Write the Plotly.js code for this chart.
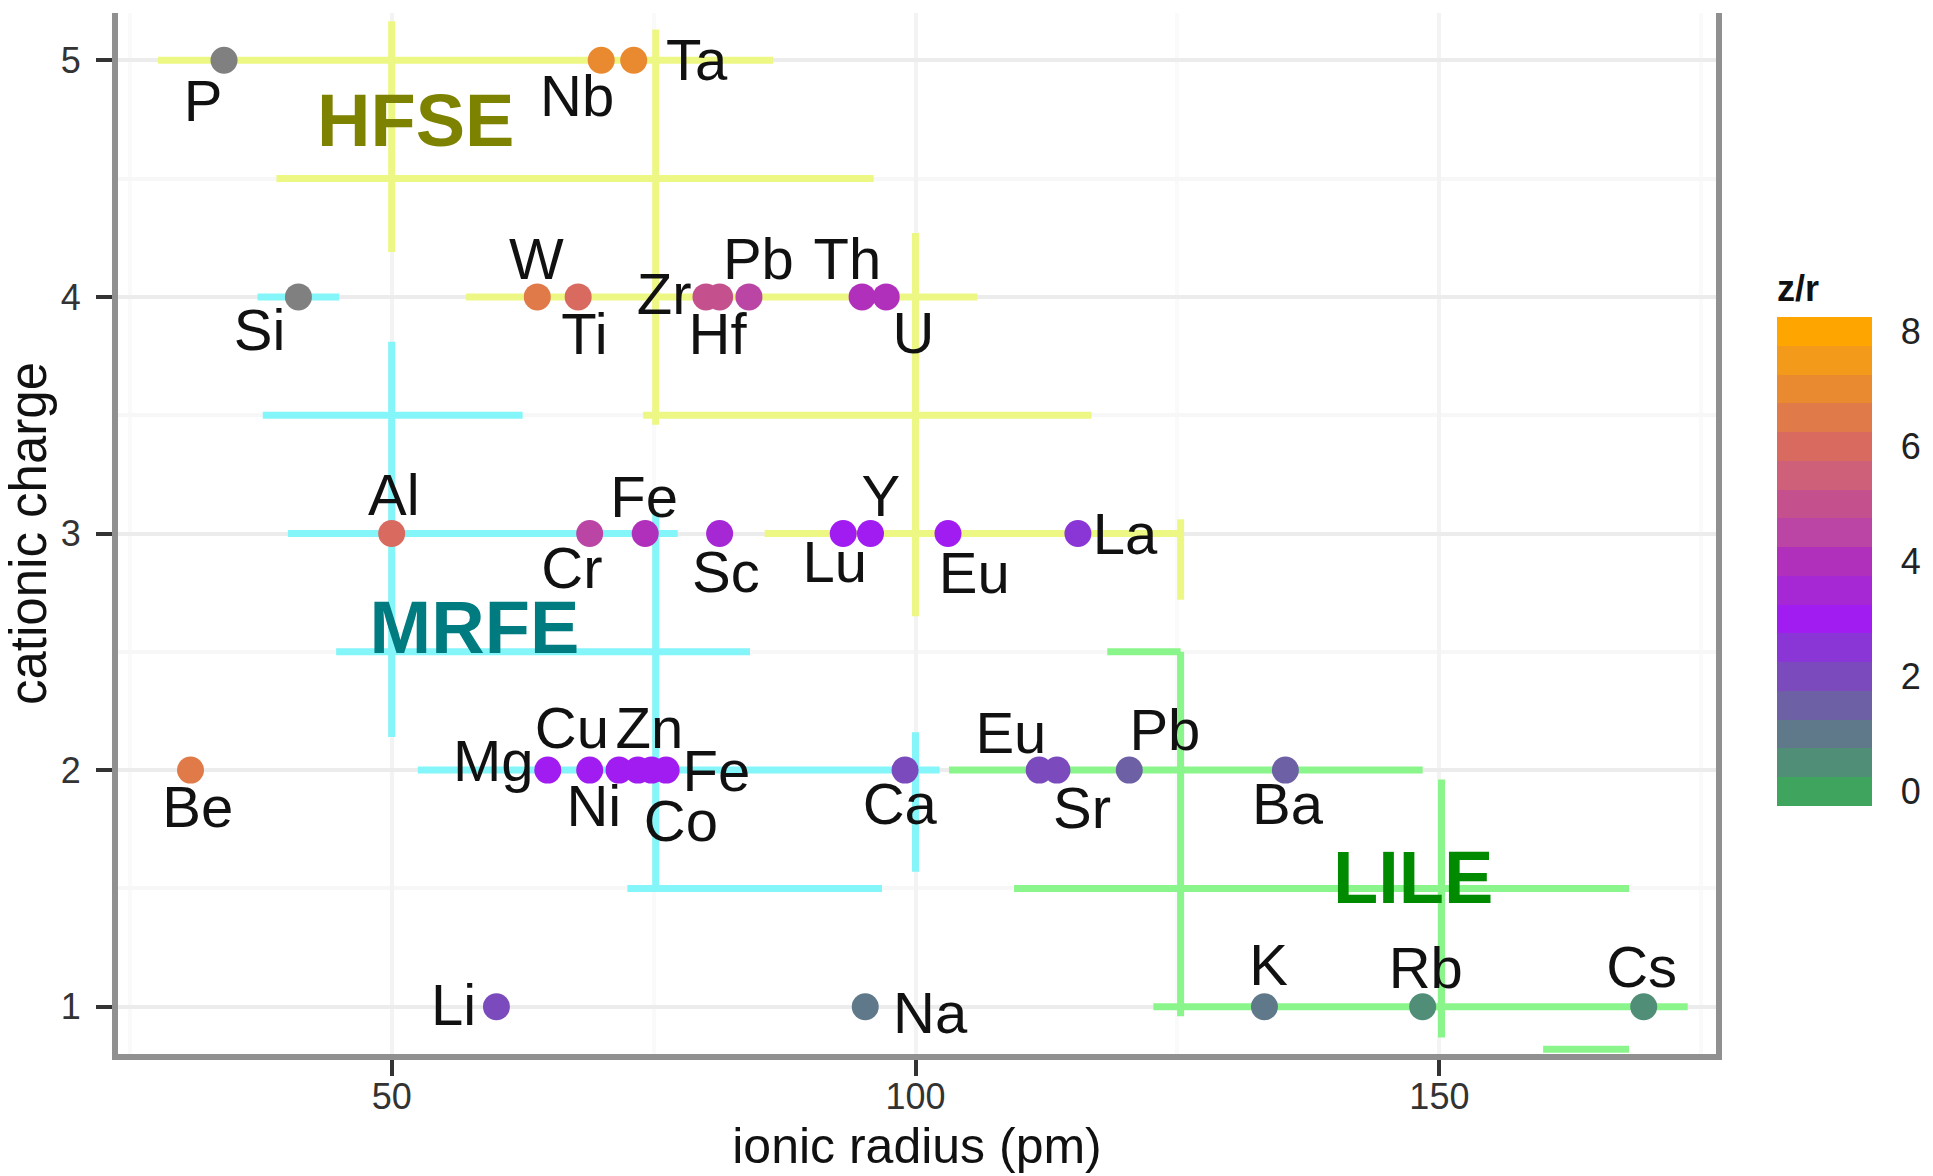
<!DOCTYPE html>
<html>
<head>
<meta charset="utf-8">
<script src="https://cdn.plot.ly/plotly-3.0.1.min.js"></script>
<style>
  html, body { margin: 0; padding: 0; background: #ffffff; }
  #chart { width: 1933px; height: 1176px; }
</style>
</head>
<body>
<div id="chart"></div>
<script>
// ---------- data ----------
const elements = ["P","Nb","Ta","W","Ti","Zr","Hf","Pb","Th","U",
                  "Si","Al","Cr","Fe","Sc","Lu","Y","Eu","La",
                  "Be","Mg","Ni","Cu","Zn","Co","Fe","Ca","Eu","Sr","Pb","Ba",
                  "Li","Na","K","Rb","Cs"];
const ionicRadius = [34.0, 70.0, 73.1, 63.9, 67.8, 80.0, 81.3, 84.1, 94.9, 97.2,
                     41.1, 50.0, 68.9, 74.2, 81.3, 93.1, 95.7, 103.1, 115.5,
                     30.8, 64.9, 68.9, 71.7, 73.5, 74.8, 76.2, 99.0, 111.8, 113.5, 120.4, 135.3,
                     60.0, 95.2, 133.3, 148.4, 169.5];
const cationicCharge = [5, 5, 5, 4, 4, 4, 4, 4, 4, 4,
                        4, 3, 3, 3, 3, 3, 3, 3, 3,
                        2, 2, 2, 2, 2, 2, 2, 2, 2, 2, 2, 2,
                        1, 1, 1, 1, 1];
// z/r colour value (null = outside the colour scale, drawn grey)
const zOverR = [null, 7.2, 6.9, 6.3, 5.9, 5.0, 4.9, 4.7, 4.2, 4.1,
                null, 6.0, 4.35, 4.05, 3.7, 3.2, 3.15, 2.9, 2.6,
                6.5, 3.1, 2.9, 2.85, 2.8, 2.8, 2.76, 2.0, 1.8, 1.77, 1.67, 1.5,
                1.8, 1.05, 0.75, 0.68, 0.6];
// label anchor positions (data units)
const labelX = [32.0, 67.7, 79.1, 63.8, 68.4, 76.0, 81.1, 85.0, 93.5, 99.8,
                37.4, 50.2, 67.2, 74.1, 81.9, 92.3, 96.7, 105.6, 120.0,
                31.5, 59.7, 69.3, 67.2, 74.6, 77.6, 81.0, 98.5, 109.1, 115.9, 123.8, 135.5,
                55.9, 101.4, 133.7, 148.7, 169.3];
const labelY = [4.805, 4.825, 4.98, 4.135, 3.82, 3.99, 3.82, 4.135, 4.135, 3.825,
                3.835, 3.14, 2.83, 3.13, 2.815, 2.855, 3.135, 2.81, 2.975,
                1.82, 2.015, 1.825, 2.155, 2.155, 1.76, 1.975, 1.835, 2.135, 1.815, 2.145, 1.835,
                0.985, 0.95, 1.155, 1.14, 1.145];

// group names and positions
const groupNames = ["HFSE", "MRFE", "LILE"];
const groupX = [52.3, 57.9, 147.5];
const groupY = [4.715, 2.575, 1.515];
const groupTextColors = ["#7d8200", "#007b80", "#008a00"];
const groupLineColors = ["#edf783", "#84f5f8", "#8af58a"];

// freehand boundary segments per group: [x0, x1, y0, y1]
const hfseSegments = [
  [27.7, 86.4, 5, 5], [50, 50, 5.165, 4.19], [39.0, 96.0, 4.5, 4.5],
  [75.2, 75.2, 5.13, 3.46], [57.1, 105.9, 4, 4], [74.0, 116.8, 3.5, 3.5],
  [100, 100, 4.27, 2.65], [85.6, 125.3, 3, 3], [125.3, 125.3, 3.06, 2.72]
];
const mrfeSegments = [
  [37.2, 45.0, 4, 4], [50, 50, 3.81, 2.14], [37.7, 62.5, 3.5, 3.5],
  [40.1, 77.3, 3, 3], [44.7, 84.2, 2.5, 2.5], [75.2, 75.2, 3.09, 1.51],
  [52.5, 102.3, 2, 2], [72.5, 96.8, 1.5, 1.5], [100, 100, 2.16, 1.57]
];
const lileSegments = [
  [103.2, 148.4, 2, 2], [118.3, 125.3, 2.5, 2.5], [125.3, 125.3, 2.5, 0.96],
  [109.4, 168.1, 1.5, 1.5], [150.2, 150.2, 1.96, 0.87], [122.7, 173.7, 1, 1],
  [159.9, 168.1, 0.82, 0.82]
];

// colour bar bands (z/r = 0, 0.5, ..., 8)
const bandColors = ["#3fa45e","#518e78","#5f788a","#6e60a5","#7b4bbe","#8a35d5","#a01cf0",
                    "#a628d5","#b030bc","#ba45a5","#c4508d","#ce607a","#d86a60","#e07a48",
                    "#ea8a30","#f49a1a","#ffa500"];
const colorTicks = [0, 2, 4, 6, 8];
const xTicks = [50, 100, 150];
const yTicks = [1, 2, 3, 4, 5];

// ---------- build traces ----------
const FONT = "Liberation Sans, Arial, Helvetica, sans-serif";

function segTrace(segs, color) {
  const xs = [], ys = [];
  segs.forEach(s => { xs.push(s[0], s[1], null); ys.push(s[2], s[3], null); });
  return { type: "scatter", mode: "lines", x: xs, y: ys,
           line: { color: color, width: 7 }, hoverinfo: "skip", showlegend: false };
}

const stepScale = [];
const nb = bandColors.length;
bandColors.forEach((c, i) => { stepScale.push([i / nb, c]); stepScale.push([(i + 1) / nb, c]); });

const naX = [], naY = [], cX = [], cY = [], cZ = [];
elements.forEach((e, i) => {
  if (zOverR[i] === null) { naX.push(ionicRadius[i]); naY.push(cationicCharge[i]); }
  else { cX.push(ionicRadius[i]); cY.push(cationicCharge[i]); cZ.push(zOverR[i]); }
});

const traces = [
  segTrace(hfseSegments, groupLineColors[0]),
  segTrace(mrfeSegments, groupLineColors[1]),
  segTrace(lileSegments, groupLineColors[2]),
  { type: "scatter", mode: "text", x: groupX, y: groupY, text: groupNames,
    textposition: "middle center",
    textfont: { family: FONT, size: 74, weight: "bold", color: groupTextColors },
    hoverinfo: "skip", showlegend: false },
  { type: "scatter", mode: "markers", x: naX, y: naY,
    marker: { size: 27, color: "#808080", line: { width: 0 } },
    hoverinfo: "skip", showlegend: false },
  { type: "scatter", mode: "markers", x: cX, y: cY,
    marker: { size: 27, color: cZ, cmin: -0.25, cmax: 8.25, colorscale: stepScale,
              line: { width: 0 }, showscale: true,
              colorbar: {
                title: { text: "z/r", side: "top", font: { family: FONT, size: 36, weight: "bold", color: "#111" } },
                x: 1.0381, xanchor: "left", xpad: 0,
                y: 0.2382, yanchor: "bottom", ypad: 0,
                len: 535, lenmode: "pixels",
                thickness: 95, thicknessmode: "pixels",
                outlinewidth: 0,
                tickvals: colorTicks, ticktext: colorTicks.map(String),
                ticks: "outside", ticklen: 22, tickcolor: "rgba(0,0,0,0)",
                tickfont: { family: FONT, size: 36, color: "#222" }
              } },
    hoverinfo: "skip", showlegend: false },
  { type: "scatter", mode: "text", x: labelX, y: labelY, text: elements,
    textposition: "middle center",
    textfont: { family: FONT, size: 58, color: "#111" },
    hoverinfo: "skip", showlegend: false }
];

const layout = {
  width: 1933, height: 1176,
  margin: { l: 118, r: 215, t: 13, b: 122, pad: 0 },
  paper_bgcolor: "#ffffff", plot_bgcolor: "#ffffff",
  font: { family: FONT, color: "#111" },
  showlegend: false,
  xaxis: {
    range: [23.88, 176.4], tickvals: xTicks, ticktext: xTicks.map(String),
    showgrid: true, gridcolor: "#f3f3f3", gridwidth: 4, zeroline: false,
    minor: { tickvals: [25, 75, 125, 175], showgrid: true, gridcolor: "#fafafa", gridwidth: 4, ticks: "" },
    showline: true, linecolor: "#909090", linewidth: 6,
    ticks: "outside", ticklen: 16, tickwidth: 4, tickcolor: "#333",
    ticklabelstandoff: -10,
    tickfont: { family: FONT, size: 36, color: "#333" },
    title: { text: "ionic radius (pm)", font: { family: FONT, size: 50, color: "#111" }, standoff: 14 },
    automargin: false
  },
  yaxis: {
    range: [0.8, 5.2], tickvals: yTicks, ticktext: yTicks.map(String),
    showgrid: true, gridcolor: "#ececec", gridwidth: 4, zeroline: false,
    minor: { tickvals: [1.5, 2.5, 3.5, 4.5], showgrid: true, gridcolor: "#f7f7f7", gridwidth: 4, ticks: "" },
    showline: true, linecolor: "#909090", linewidth: 6, mirror: true,
    ticks: "outside", ticklen: 16, tickwidth: 4, tickcolor: "#333",
    ticklabelstandoff: 8,
    tickfont: { family: FONT, size: 36, color: "#333" },
    title: { text: "cationic charge", font: { family: FONT, size: 51, color: "#111" }, standoff: 8 },
    automargin: false
  }
};

Plotly.newPlot("chart", traces, layout, { displayModeBar: false, staticPlot: true });
</script>
</body>
</html>
